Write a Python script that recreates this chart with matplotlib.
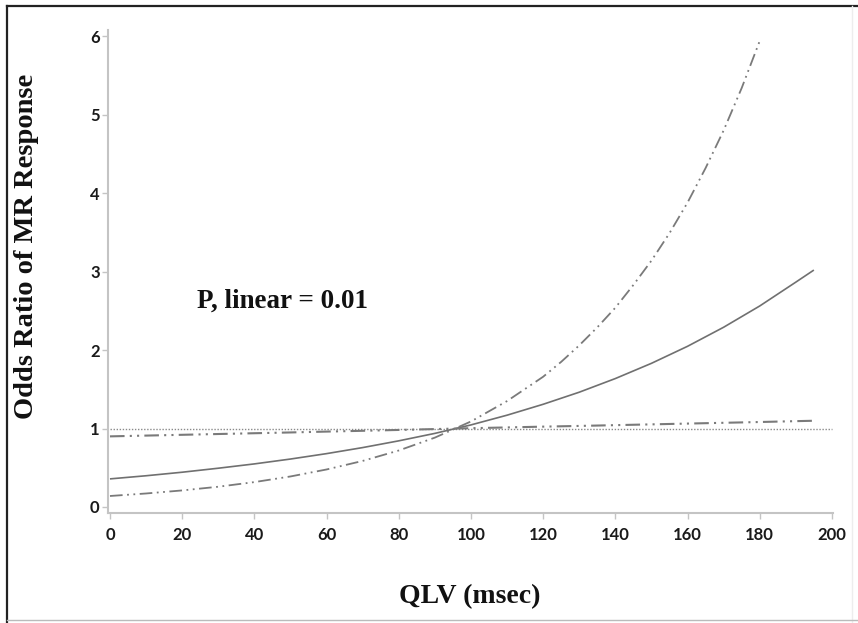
import matplotlib
matplotlib.use("Agg")
import matplotlib.pyplot as plt
from matplotlib.lines import Line2D

# Data
x_or = [0, 10, 20, 30, 40, 50, 60, 70, 80, 90, 100, 110, 120, 130, 140, 150, 160, 170, 180, 190, 195]
or_est = [0.358, 0.398, 0.443, 0.494, 0.549, 0.611, 0.680, 0.757, 0.843, 0.938,
          1.046, 1.170, 1.309, 1.463, 1.637, 1.831, 2.048, 2.291, 2.562, 2.866, 3.02]

x_flat = [0, 10, 20, 30, 40, 50, 60, 70, 80, 90, 100, 110, 120, 130, 140, 150, 160, 170, 180, 190, 195]
ci_flat = [0.900, 0.910, 0.920, 0.930, 0.940, 0.950, 0.961, 0.971, 0.982, 0.993,
           1.004, 1.014, 1.024, 1.033, 1.043, 1.053, 1.063, 1.073, 1.083, 1.094, 1.099]

x_steep = [0, 10, 20, 30, 40, 50, 60, 70, 80, 90, 100, 110, 120, 125, 130, 135, 140,
           145, 150, 155, 160, 165, 170, 175, 180]
ci_steep = [0.140, 0.172, 0.211, 0.258, 0.317, 0.389, 0.478, 0.587, 0.720, 0.884,
            1.09, 1.35, 1.66, 1.85, 2.06, 2.29, 2.54, 2.83, 3.14, 3.49, 3.88, 4.32, 4.80, 5.34, 5.94]

ref_x = [0, 200]
ref_y = [1, 1]

x_ticks = [0, 20, 40, 60, 80, 100, 120, 140, 160, 180, 200]
y_ticks = [0, 1, 2, 3, 4, 5, 6]

W, H = 858, 623
fig = plt.figure(figsize=(W / 100, H / 100), dpi=100)
fig.patch.set_facecolor("white")

# figure frame
fig.add_artist(Line2D([6.5 / W, 6.5 / W], [0, 1 - 5.5 / H], transform=fig.transFigure, color="#222222", lw=1.6))
fig.add_artist(Line2D([6.5 / W, 1], [1 - 5.5 / H, 1 - 5.5 / H], transform=fig.transFigure, color="#222222", lw=1.6))
fig.add_artist(Line2D([851.5 / W, 851.5 / W], [0, 1 - 5.5 / H], transform=fig.transFigure, color="#ededed", lw=1.0))
fig.add_artist(Line2D([6.5 / W, 1], [1 - 620 / H, 1 - 620 / H], transform=fig.transFigure, color="#bbbbbb", lw=1.0))

left, right = 108 / W, 833 / W
bottom, top = 1 - 512.7 / H, 1 - 30 / H
ax = fig.add_axes([left, bottom, right - left, top - bottom])
ax.set_xlim(-0.55, 200.3)
ax.set_ylim(-0.073, 6.08)

gray_line = "#707070"
ax.plot(ref_x, ref_y, color="#8a8a8a", lw=1.0, linestyle=(0, (1, 1.2)))
ax.plot(x_or, or_est, color=gray_line, lw=1.2, solid_capstyle="butt")
dd = (0, (7, 2.5, 1, 2.5, 1, 2.5))
ax.plot(x_flat, ci_flat, color="#7a7a7a", lw=1.5, linestyle=dd)
ax.plot(x_steep, ci_steep, color="#7a7a7a", lw=1.3, linestyle=dd)

for s in ["top", "right"]:
    ax.spines[s].set_visible(False)
for s in ["left", "bottom"]:
    ax.spines[s].set_color("#c4c4c4")
    ax.spines[s].set_linewidth(1.5)

ax.set_xticks(x_ticks)
ax.set_yticks(y_ticks)
ax.set_xticklabels([str(v) for v in x_ticks])
ax.set_yticklabels([str(v) for v in y_ticks])
ax.tick_params(axis="both", direction="out", length=4, width=1.0, color="#c4c4c4",
               labelsize=12, labelcolor="#1a1a1a")
ax.tick_params(axis="x", pad=6)
ax.tick_params(axis="y", pad=2)
for lab in ax.get_xticklabels() + ax.get_yticklabels():
    lab.set_fontfamily("Lato")
    lab.set_fontweight("bold")

ax.text(24, 2.62, "P, linear = 0.01", fontfamily="Liberation Serif", fontweight="bold",
        fontsize=19.5, va="center", ha="left", color="#111111")

fig.text(470 / W, 1 - 597 / H, "QLV (msec)", fontfamily="Liberation Serif", fontweight="bold",
         fontsize=20, ha="center", va="center", color="#111111")
fig.text(27 / W, 1 - 246 / H, "Odds Ratio of MR Response", fontfamily="Liberation Serif",
         fontweight="bold", fontsize=20.5, ha="center", va="center", rotation=90, color="#111111")

fig.savefig("out.png", dpi=100, facecolor="white")
